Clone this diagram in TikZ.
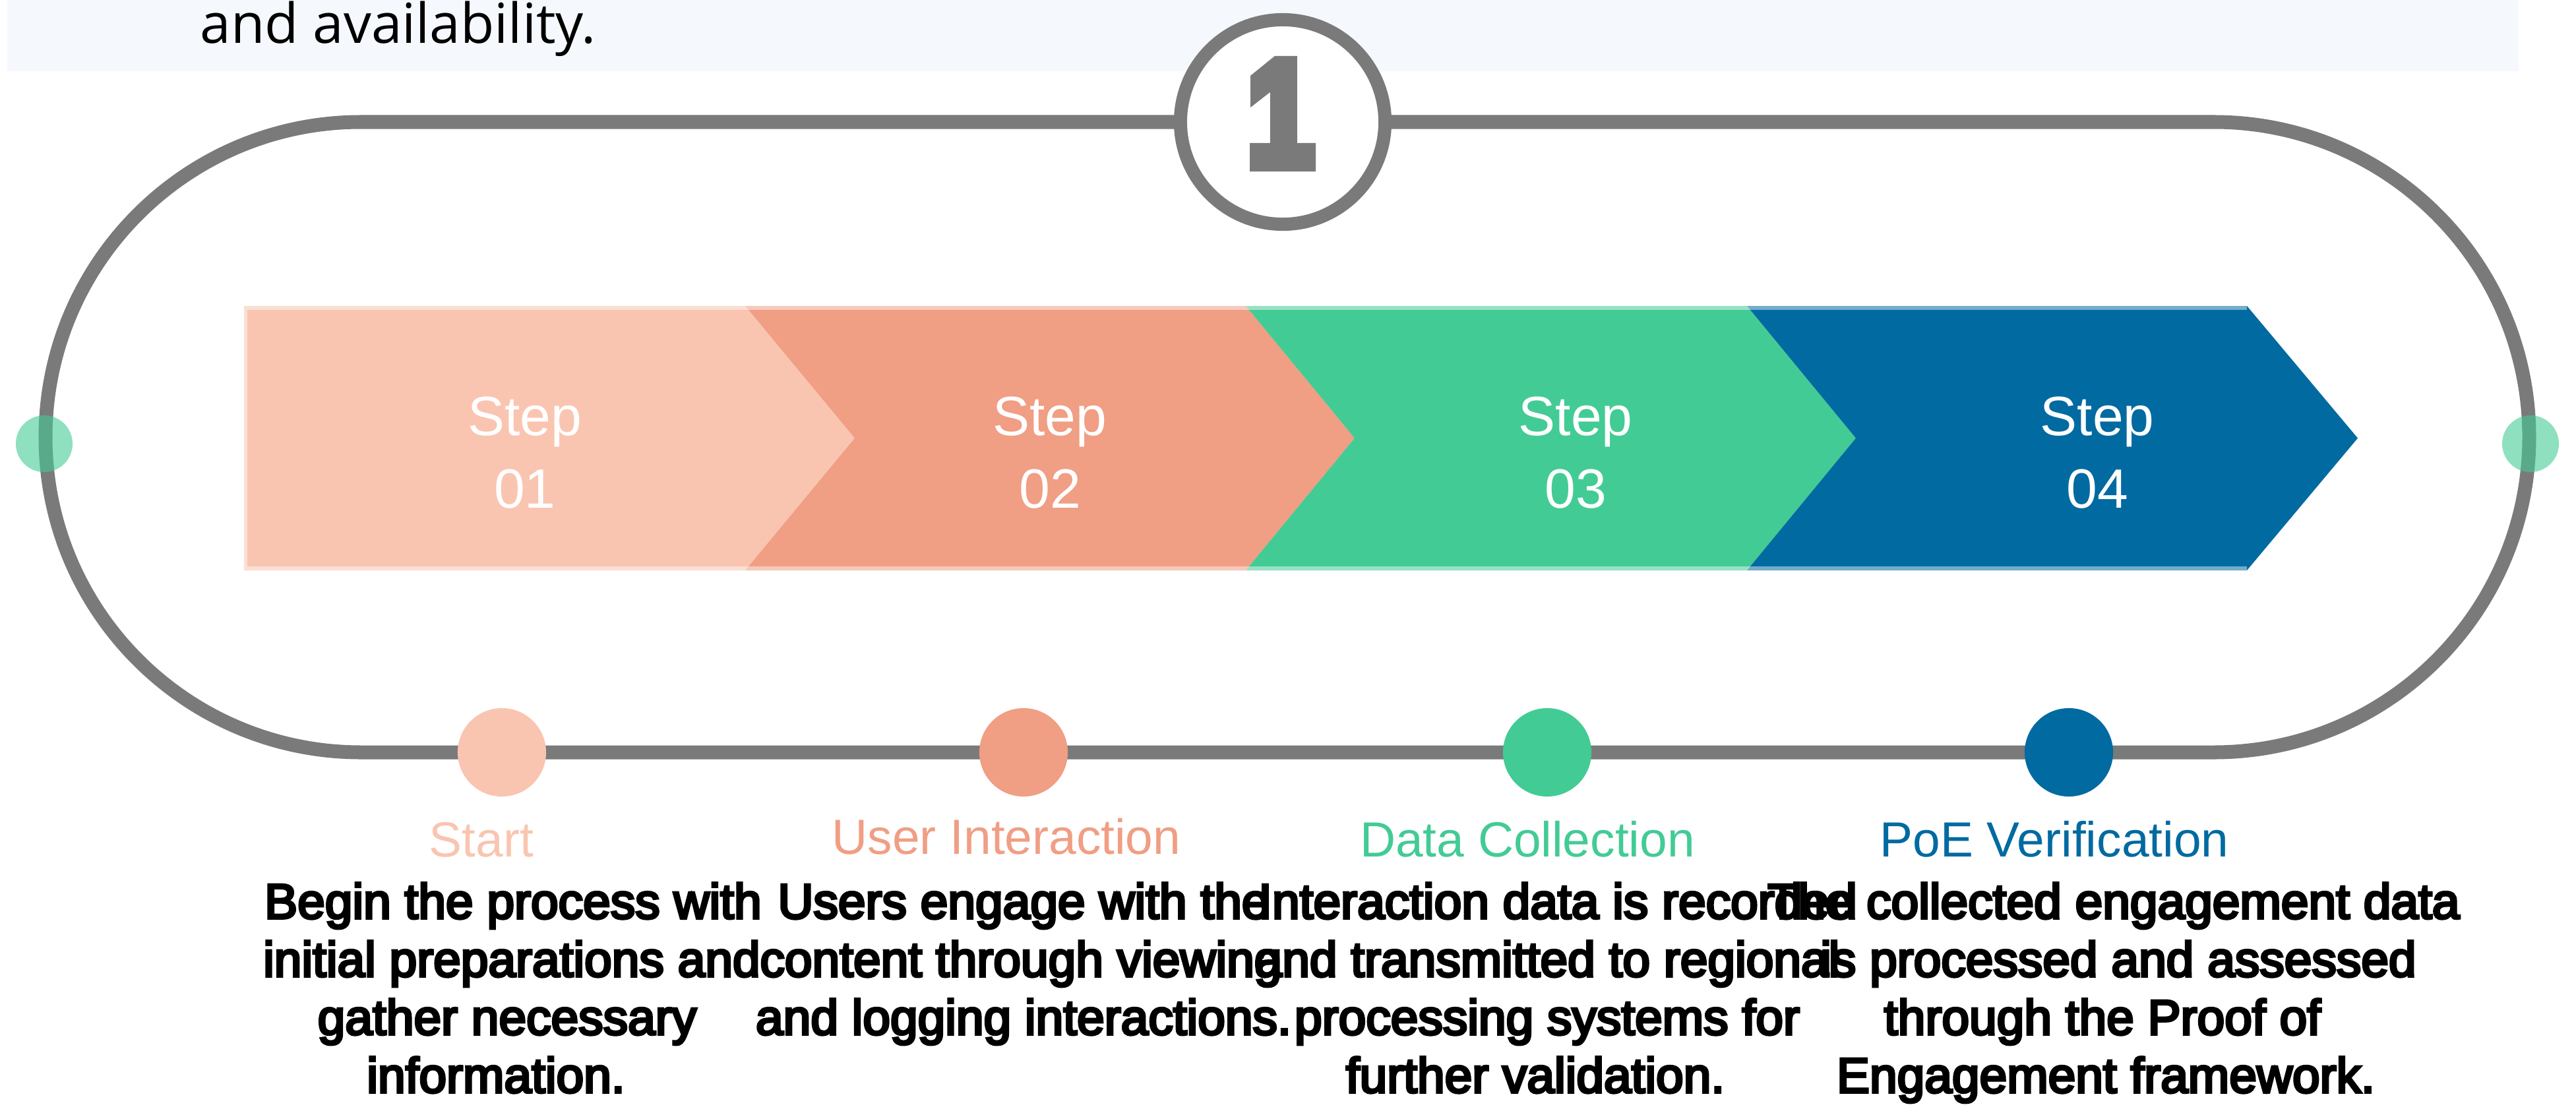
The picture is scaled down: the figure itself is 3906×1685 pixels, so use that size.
\documentclass[tikz,border=0pt]{standalone}
\usepackage{fontspec}
\setmainfont{Liberation Sans}
\newfontfamily\descfont{Liberation Sans}[RawFeature={embolden=5}]
\newfontfamily\badgefont{Liberation Sans}[RawFeature={embolden=9}]
\newfontfamily\notefont{Open Sans}

\definecolor{trackgray}{HTML}{7A7A7A}
\definecolor{bandbg}{HTML}{F5F8FD}
\definecolor{peach}{HTML}{F9C5B1}
\definecolor{salmon}{HTML}{F09E84}
\definecolor{mint}{HTML}{43CB95}
\definecolor{ocean}{HTML}{006AA1}

\begin{document}
\begin{tikzpicture}[x=0.01cm, y=-0.01cm,
  track/.style={draw=trackgray, line width=0.21cm, rounded corners=4.78cm},
  steptext/.style={text=white, font=\fontsize{23.9}{28}\selectfont, anchor=base, inner sep=0},
  stagedot/.style={circle, inner sep=0, minimum size=1.34cm},
  sidedot/.style={circle, inner sep=0, minimum size=0.86cm, fill=mint, fill opacity=0.6},
  stagelabel/.style={font=\fontsize{21.3}{26}\selectfont, anchor=base, inner sep=0},
  descline/.style={font=\descfont\fontsize{21.3}{26}\selectfont, anchor=base, inner sep=0, text=black},
  sheen/.style={fill=white, fill opacity=0.45}
]
\useasboundingbox (0,0) rectangle (3906,1685);

% header strip with the tail of the preceding paragraph
\fill[bandbg] (11,0) rectangle (3819,108);
\node[anchor=base west, inner sep=0, font=\notefont\fontsize{23.8}{28}\selectfont] (tail) at (303,66) {and availability.};

% the race-track loop
\draw[track] (69,185) rectangle (3835,1141);

% numbered badge on the top run
\node[circle, draw=trackgray, line width=0.2cm, fill=white, minimum size=3.1cm, inner sep=0] (badge) at (1945,185) {};
\node[anchor=base, inner sep=0, text=trackgray, xscale=0.8, font=\badgefont\bfseries\fontsize{64}{64}\selectfont] (badgenum) at (1942,250) {1};

% chevron band
\fill[peach]  (370,464) -- (1130,464) -- (1296,664.5) -- (1130,865) -- (370,865) -- cycle;
\fill[salmon] (1130,464) -- (1889,464) -- (2054,664.5) -- (1889,865) -- (1130,865) -- (1296,664.5) -- cycle;
\fill[mint]   (1889,464) -- (2649,464) -- (2814,664.5) -- (2649,865) -- (1889,865) -- (2054,664.5) -- cycle;
\fill[ocean]  (2649,464) -- (3407,464) -- (3575,664.5) -- (3407,865) -- (2649,865) -- (2814,664.5) -- cycle;
\fill[sheen] (370,464) rectangle (3407,470);
\fill[sheen] (370,859) rectangle (3407,865);
\fill[sheen] (370,470) rectangle (375,859);

\node[steptext] (s1a) at (796,660) {Step};
\node[steptext] (s1b) at (796,770) {01};
\node[steptext] (s2a) at (1592,660) {Step};
\node[steptext] (s2b) at (1592,770) {02};
\node[steptext] (s3a) at (2389,660) {Step};
\node[steptext] (s3b) at (2389,770) {03};
\node[steptext] (s4a) at (3180,660) {Step};
\node[steptext] (s4b) at (3180,770) {04};

% markers where the loop turns
\node[sidedot] (leftdot) at (67,673) {};
\node[sidedot] (rightdot) at (3837,673) {};

% stage markers on the bottom run
\node[stagedot, fill=peach]  (d1) at (761,1141) {};
\node[stagedot, fill=salmon] (d2) at (1552,1141) {};
\node[stagedot, fill=mint]   (d3) at (2346,1141) {};
\node[stagedot, fill=ocean]  (d4) at (3137,1141) {};

% stage titles
\node[stagelabel, text=peach]  (t1) at (730,1299) {Start};
\node[stagelabel, text=salmon] (t2) at (1526,1295) {User Interaction};
\node[stagelabel, text=mint]   (t3) at (2316,1299) {Data Collection};
\node[stagelabel, text=ocean]  (t4) at (3115,1299) {PoE Verification};

% stage descriptions
\node[descline] (a1) at (778,1393) {Begin the process with};
\node[descline] (a2) at (776,1481) {initial preparations and};
\node[descline] (a3) at (769,1569) {gather necessary};
\node[descline] (a4) at (752,1657) {information.};

\node[descline] (b1) at (1552,1393) {Users engage with the};
\node[descline] (b2) at (1548,1481) {content through viewing};
\node[descline] (b3) at (1552,1569) {and logging interactions.};

\node[descline] (c1) at (2362,1393) {Interaction data is recorded};
\node[descline] (c2) at (2346,1481) {and transmitted to regional};
\node[descline] (c3) at (2346,1569) {processing systems for};
\node[descline] (c4) at (2328,1657) {further validation.};

\node[descline] (e1) at (3205,1393) {The collected engagement data};
\node[descline] (e2) at (3212,1481) {is processed and assessed};
\node[descline] (e3) at (3188,1569) {through the Proof of};
\node[descline] (e4) at (3193,1657) {Engagement framework.};
\end{tikzpicture}
\end{document}
